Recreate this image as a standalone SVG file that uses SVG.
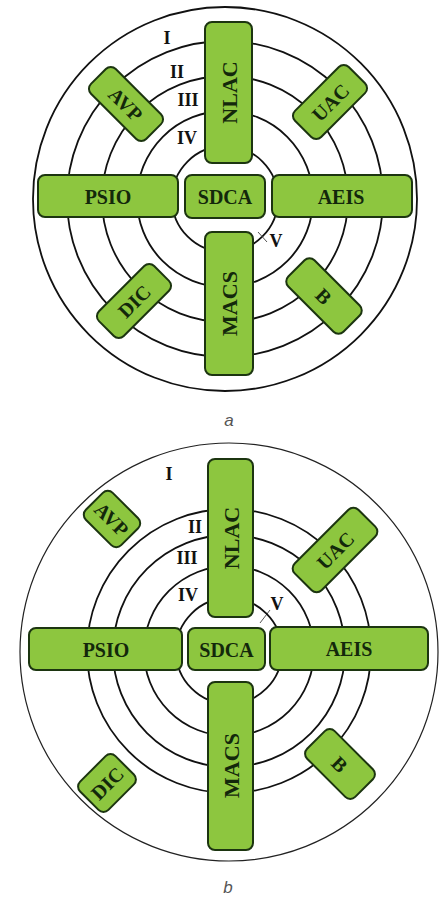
<svg xmlns="http://www.w3.org/2000/svg" width="441" height="898" viewBox="0 0 441 898">
<style>
.bg{fill:#ffffff}
.ring{fill:none;stroke:#111;stroke-width:1.8}
.outer-b{fill:none;stroke:#222;stroke-width:1.2}
.box{fill:#8dc63f;stroke:#1c3510;stroke-width:2}
.lbl{font-family:"Liberation Serif","Times New Roman",serif;font-weight:bold;font-size:20px;fill:#13280b;text-anchor:middle;dominant-baseline:central}
.vlbl{font-size:22px}
.num{font-family:"Liberation Serif","Times New Roman",serif;font-weight:bold;font-size:18px;fill:#111;text-anchor:middle}
.tick{stroke:#555;stroke-width:1}
.cap{font-family:"Liberation Sans",Arial,sans-serif;font-style:italic;font-size:17px;fill:#555;text-anchor:middle}
</style>
<rect class="bg" x="0" y="0" width="441" height="898"/>

<!-- Diagram a -->
<g id="rings-a">
  <circle class="ring" cx="225" cy="199" r="192"/>
  <circle class="ring" cx="225" cy="199" r="158"/>
  <circle class="ring" cx="225" cy="199" r="123"/>
  <circle class="ring" cx="225" cy="199" r="88"/>
  <circle class="ring" cx="225" cy="199" r="53"/>
</g>
<g id="connectors">
  <line class="tick" x1="258" y1="232" x2="267" y2="242"/>
  <line class="tick" x1="260" y1="623" x2="270" y2="610"/>
</g>
<g id="labels-a">
  <text class="num" x="167" y="44">I</text>
  <text class="num" x="177" y="78">II</text>
  <text class="num" x="188" y="106">III</text>
  <text class="num" x="187" y="144">IV</text>
  <text class="num" x="276" y="247">V</text>
</g>
<g id="a-NLAC"><rect class="box" x="205" y="22" width="47" height="141" rx="7"/><text class="lbl vlbl" transform="translate(229,92.5) rotate(-90)">NLAC</text></g>
<g id="a-PSIO"><rect class="box" x="38" y="175" width="140" height="42" rx="7"/><text class="lbl" x="108" y="196.5">PSIO</text></g>
<g id="a-SDCA"><rect class="box" x="185" y="175" width="80" height="43" rx="7"/><text class="lbl" x="225" y="197">SDCA</text></g>
<g id="a-AEIS"><rect class="box" x="272" y="175" width="140" height="42" rx="7"/><text class="lbl" x="341" y="196.5">AEIS</text></g>
<g id="a-MACS"><rect class="box" x="205" y="232" width="48" height="143" rx="7"/><text class="lbl vlbl" transform="translate(229.5,303.5) rotate(-90)">MACS</text></g>
<g id="a-AVP" transform="translate(126,104) rotate(45)"><rect class="box" x="-39" y="-17.5" width="78" height="35" rx="7"/><text class="lbl" x="0" y="0.5">AVP</text></g>
<g id="a-UAC" transform="translate(330,102) rotate(-45)"><rect class="box" x="-38" y="-18.5" width="76" height="37" rx="7"/><text class="lbl" x="0" y="0.5">UAC</text></g>
<g id="a-DIC" transform="translate(134,301) rotate(-45)"><rect class="box" x="-39" y="-17.5" width="78" height="35" rx="7"/><text class="lbl" x="0" y="0.5">DIC</text></g>
<g id="a-B" transform="translate(324,296) rotate(45)"><rect class="box" x="-39" y="-18.5" width="78" height="37" rx="7"/><text class="lbl" x="0" y="0.5">B</text></g>
<text class="cap" x="229" y="426">a</text>

<!-- Diagram b -->
<g id="rings-b">
  <circle class="outer-b" cx="229" cy="652" r="209"/>
  <circle class="ring" cx="229" cy="651" r="142"/>
  <circle class="ring" cx="229" cy="651" r="116"/>
  <circle class="ring" cx="229" cy="651" r="85"/>
  <circle class="ring" cx="229" cy="651" r="53"/>
</g>
<g id="labels-b">
  <text class="num" x="169" y="480">I</text>
  <text class="num" x="195" y="533">II</text>
  <text class="num" x="187" y="564">III</text>
  <text class="num" x="188" y="601">IV</text>
  <text class="num" x="277" y="610">V</text>
</g>
<g id="b-NLAC"><rect class="box" x="208" y="459" width="45" height="158" rx="7"/><text class="lbl vlbl" transform="translate(231,538) rotate(-90)">NLAC</text></g>
<g id="b-PSIO"><rect class="box" x="29" y="628" width="153" height="42" rx="7"/><text class="lbl" x="106" y="649.5">PSIO</text></g>
<g id="b-SDCA"><rect class="box" x="188" y="628" width="77" height="42" rx="7"/><text class="lbl" x="226.5" y="650">SDCA</text></g>
<g id="b-AEIS"><rect class="box" x="270" y="627" width="158" height="43" rx="7"/><text class="lbl" x="349" y="648.5">AEIS</text></g>
<g id="b-MACS"><rect class="box" x="208" y="682" width="45" height="168" rx="7"/><text class="lbl vlbl" transform="translate(231,765.5) rotate(-90)">MACS</text></g>
<g id="b-AVP" transform="translate(112,519) rotate(45)"><rect class="box" x="-25" y="-19" width="50" height="38" rx="7"/><text class="lbl" x="0" y="0.5">AVP</text></g>
<g id="b-UAC" transform="translate(335,550) rotate(-45)"><rect class="box" x="-45" y="-19" width="90" height="38" rx="7"/><text class="lbl" x="0" y="0.5">UAC</text></g>
<g id="b-DIC" transform="translate(107,783) rotate(-45)"><rect class="box" x="-25" y="-20" width="50" height="40" rx="7"/><text class="lbl" x="0" y="0.5">DIC</text></g>
<g id="b-B" transform="translate(340,764) rotate(45)"><rect class="box" x="-34" y="-19.5" width="68" height="39" rx="7"/><text class="lbl" x="0" y="0.5">B</text></g>
<text class="cap" x="228" y="893">b</text>
</svg>
